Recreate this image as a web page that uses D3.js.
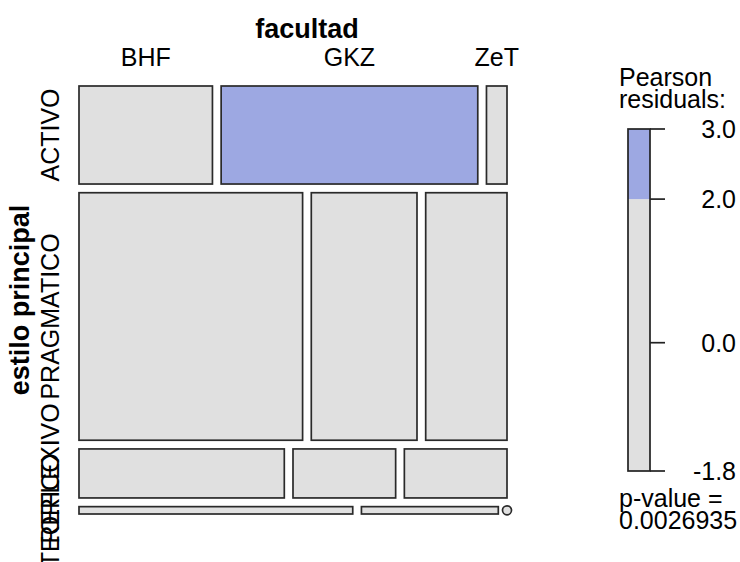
<!DOCTYPE html>
<html><head><meta charset="utf-8">
<script src="https://cdn.jsdelivr.net/npm/d3@7"></script>
<style>body{margin:0;background:#fff}svg{display:block;font-family:"Liberation Sans",Arial,Helvetica,sans-serif}</style>
</head><body><svg id="c" width="740" height="562"></svg>
<script>
// ---- data ----
const facultad = ["BHF", "GKZ", "ZeT"];
const estilo = ["ACTIVO", "PRAGMATICO", "REFLEXIVO", "TEORICO"];
const activo = [13, 25, 2];
const pragmatico = [55, 26, 20];
const reflexivo = [10, 5, 5];
const teorico = [2, 1, 0];
const pValueText = "0.0026935";
const varX = "facultad", varY = "estilo principal";

const counts = [activo, pragmatico, reflexivo, teorico];
const N = d3.sum(counts.flat());
const rowTot = counts.map(r => d3.sum(r));
const colTot = facultad.map((_, j) => d3.sum(counts, r => r[j]));
const resid = counts.map((r, i) => r.map((o, j) => {
  const e = rowTot[i] * colTot[j] / N; return (o - e) / Math.sqrt(e);
}));

// ---- layout ----
const svg = d3.select("#c");
const X0 = 79, X1 = 507, Y0 = 86, Y1 = 514, GAP = 8.7;
const W = X1 - X0 - GAP * (facultad.length - 1);
const H = Y1 - Y0 - GAP * (estilo.length - 1);
const yS = d3.scaleLinear().domain([0, N]).range([0, H]);
const color = d3.scaleThreshold().domain([-4, -2, 2, 4])
  .range(["#D96B6B", "#E2A5A2", "#E0E0E0", "#9DA8E2", "#5A72D6"]);

const cells = [];
let cumR = 0;
counts.forEach((r, i) => {
  const y = Y0 + yS(cumR) + i * GAP, h = yS(rowTot[i]);
  const xS = d3.scaleLinear().domain([0, rowTot[i]]).range([0, W]);
  let cumC = 0;
  r.forEach((v, j) => {
    cells.push({i, j, v, x: X0 + xS(cumC) + j * GAP, w: xS(v), y, h, r: resid[i][j]});
    cumC += v;
  });
  cumR += rowTot[i];
});

const g = svg.append("g");
g.selectAll("rect.cell").data(cells.filter(d => d.v > 0)).join("rect")
  .attr("class", "cell")
  .attr("x", d => d.x).attr("y", d => d.y).attr("width", d => d.w).attr("height", d => d.h)
  .attr("fill", d => color(d.r)).attr("stroke", "#2a2a2a").attr("stroke-width", 1.7);
g.selectAll("circle.zero").data(cells.filter(d => d.v === 0)).join("circle")
  .attr("class", "zero")
  .attr("cx", d => d.x).attr("cy", d => d.y + d.h / 2).attr("r", 4.5)
  .attr("fill", "#E0E0E0").attr("stroke", "#2a2a2a").attr("stroke-width", 1.7);

// top labels (from first row)
const fs = 25;
svg.append("text").attr("x", (X0 + X1) / 2 + 14).attr("y", 38).attr("text-anchor", "middle")
  .attr("font-weight", "bold").attr("font-size", 27).text(varX);
svg.selectAll("text.top").data(cells.filter(d => d.i === 0)).join("text")
  .attr("class", "top").attr("x", d => d.x + d.w / 2).attr("y", 66)
  .attr("text-anchor", "middle").attr("font-size", fs).text(d => facultad[d.j]);

// left labels
const rowPos = estilo.map((_, i) => { const c = cells.find(d => d.i === i); return c.y + c.h / 2; });
svg.selectAll("text.left").data(estilo).join("text")
  .attr("class", "left")
  .attr("transform", (d, i) => `translate(59,${rowPos[i]}) rotate(-90)`)
  .attr("text-anchor", "middle").attr("font-size", fs).text(d => d);
svg.append("text").attr("transform", `translate(29,${(Y0 + Y1) / 2}) rotate(-90)`)
  .attr("text-anchor", "middle").attr("font-weight", "bold").attr("font-size", 27).text(varY);

// legend
const ext = d3.extent(resid.flat());
const lS = d3.scaleLinear().domain(ext).range([471, 129]);
const LX = 628, LW = 22;
const bands = [-Infinity, -4, -2, 2, 4, Infinity];
const lg = svg.append("g");
for (let k = 0; k < bands.length - 1; k++) {
  const lo = Math.max(bands[k], ext[0]), hi = Math.min(bands[k + 1], ext[1]);
  if (hi <= lo) continue;
  lg.append("rect").attr("x", LX).attr("y", lS(hi)).attr("width", LW).attr("height", lS(lo) - lS(hi))
    .attr("fill", color((lo + hi) / 2));
}
lg.append("rect").attr("x", LX).attr("y", lS(ext[1])).attr("width", LW).attr("height", lS(ext[0]) - lS(ext[1]))
  .attr("fill", "none").attr("stroke", "#222").attr("stroke-width", 1.7);
const tickVals = [ext[0], 0, 2, ext[1]];
lg.selectAll("line.t").data(tickVals).join("line").attr("class", "t")
  .attr("x1", LX + LW).attr("x2", LX + LW + 15).attr("y1", d => lS(d)).attr("y2", d => lS(d))
  .attr("stroke", "#222").attr("stroke-width", 1.7);
const lfs = 25;
lg.selectAll("text.t").data(tickVals).join("text").attr("class", "t")
  .attr("x", 736).attr("y", d => lS(d)).attr("dy", "0.36em").attr("text-anchor", "end")
  .attr("font-size", lfs).text(d => d3.format(".1f")(d).replace("−", "-"));
lg.append("text").attr("x", 619).attr("y", 86).attr("font-size", lfs).text("Pearson");
lg.append("text").attr("x", 619).attr("y", 108).attr("font-size", lfs).text("residuals:");
lg.append("text").attr("x", 619).attr("y", 507).attr("font-size", lfs).text("p-value =");
lg.append("text").attr("x", 619).attr("y", 529).attr("font-size", lfs).text(pValueText);
</script></body></html>
